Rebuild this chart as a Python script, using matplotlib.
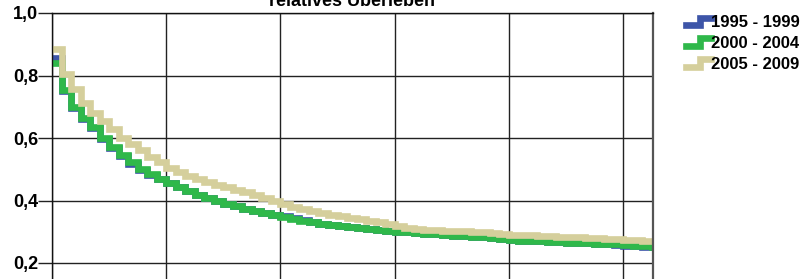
import matplotlib.pyplot as plt
from matplotlib.lines import Line2D
from matplotlib.legend_handler import HandlerLine2D

# Daten (Monate 0..63)
months = list(range(64))

surv_1995 = [0.855, 0.752, 0.697, 0.661, 0.631, 0.596, 0.568, 0.541, 0.518, 0.499,
             0.483, 0.468, 0.455, 0.442, 0.429, 0.417, 0.407, 0.397, 0.389, 0.381,
             0.374, 0.366, 0.360, 0.355, 0.349, 0.343, 0.338, 0.332, 0.326, 0.322,
             0.318, 0.315, 0.312, 0.309, 0.306, 0.303, 0.300, 0.298, 0.296, 0.294,
             0.292, 0.290, 0.288, 0.286, 0.284, 0.282, 0.279, 0.276, 0.274, 0.272,
             0.271, 0.269, 0.268, 0.267, 0.265, 0.264, 0.263, 0.262, 0.260, 0.258,
             0.256, 0.254, 0.252, 0.250]

surv_2000 = [0.840, 0.755, 0.700, 0.665, 0.635, 0.600, 0.572, 0.545, 0.522, 0.502,
             0.485, 0.470, 0.456, 0.443, 0.430, 0.418, 0.408, 0.398, 0.390, 0.382,
             0.374, 0.366, 0.359, 0.353, 0.347, 0.341, 0.336, 0.331, 0.326, 0.322,
             0.318, 0.315, 0.312, 0.309, 0.306, 0.303, 0.300, 0.298, 0.296, 0.294,
             0.292, 0.290, 0.288, 0.286, 0.284, 0.282, 0.279, 0.276, 0.274, 0.272,
             0.271, 0.269, 0.268, 0.267, 0.265, 0.264, 0.263, 0.262, 0.261, 0.260,
             0.258, 0.256, 0.254, 0.252]

surv_2005 = [0.885, 0.805, 0.757, 0.712, 0.680, 0.655, 0.628, 0.600, 0.580, 0.560,
             0.540, 0.522, 0.505, 0.492, 0.480, 0.470, 0.460, 0.451, 0.443, 0.435,
             0.427, 0.418, 0.408, 0.398, 0.388, 0.380, 0.373, 0.366, 0.360, 0.355,
             0.350, 0.345, 0.340, 0.335, 0.330, 0.324, 0.318, 0.313, 0.310, 0.307,
             0.305, 0.303, 0.302, 0.301, 0.300, 0.298, 0.295, 0.292, 0.290, 0.290,
             0.289, 0.288, 0.285, 0.284, 0.283, 0.282, 0.280, 0.279, 0.278, 0.276,
             0.275, 0.274, 0.272, 0.270]

labels = ['1995 - 1999', '2000 - 2004', '2005 - 2009']
colors = ['#3d55a8', '#2fb84a', '#d5cf9c']
yticks = [0.2, 0.4, 0.6, 0.8, 1.0]
ytick_labels = ['0,2', '0,4', '0,6', '0,8', '1,0']

FONT = ['Liberation Sans', 'DejaVu Sans']


class StepHandler(HandlerLine2D):
    # kleines Treppen-Symbol in der Legende
    def create_artists(self, legend, orig_handle, xdescent, ydescent,
                       width, height, fontsize, trans):
        w = width
        h = height
        xs = [0, w * 0.55, w * 0.55, w]
        ys = [h * 0.15, h * 0.15, h * 0.8, h * 0.8]
        ln = Line2D(xs, ys, color=orig_handle.get_color(),
                    lw=orig_handle.get_linewidth(), solid_joinstyle='miter')
        ln.set_transform(trans)
        return [ln]


fig = plt.figure(figsize=(8.09, 2.79), dpi=100)
W, H = 809, 279
ax = fig.add_axes([52 / W, (H - 325.5) / H, (653 - 52) / W, (325.5 - 13) / H])

ext = months + [63.2]
handles = []
for vals, col, lab in zip([surv_1995, surv_2000, surv_2005], colors, labels):
    l, = ax.step(ext, vals + [vals[-1]], where='post', color=col, lw=4.8,
                 solid_joinstyle='miter', label=lab)
    handles.append(l)

ax.set_xlim(0, 63.15)
ax.set_ylim(0, 1.0)
ax.set_xticks([0, 12, 24, 36, 48, 60])
ax.set_xticklabels([])
ax.set_yticks(yticks)
ax.set_yticklabels(ytick_labels, fontfamily=FONT, fontweight='bold', fontsize=13)
ax.tick_params(axis='y', length=10, width=1.0, pad=0, color='#222222')
ax.tick_params(axis='x', length=0)
ax.grid(True, color='#222222', lw=1.0)
ax.set_axisbelow(True)
for s in ['left', 'top', 'bottom']:
    ax.spines[s].set_color('#111111')
    ax.spines[s].set_linewidth(1.0)
ax.spines['right'].set_color('#555555')
ax.spines['right'].set_linewidth(1.6)

fig.text(352 / W, 1 - 5.5 / H, 'relatives Überleben', ha='center', va='baseline',
         fontfamily=FONT, fontweight='bold', fontsize=13)

leg = fig.legend(handles=handles, labels=labels, loc='upper left',
                 bbox_to_anchor=(686 / W, 1 - 15 / H), frameon=False,
                 handler_map={Line2D: StepHandler()}, handlelength=1.5,
                 handletextpad=0.0, labelspacing=0.35, borderpad=0, borderaxespad=0,
                 prop={'family': FONT, 'weight': 'bold', 'size': 12})

fig.savefig('out.png', dpi=100)
